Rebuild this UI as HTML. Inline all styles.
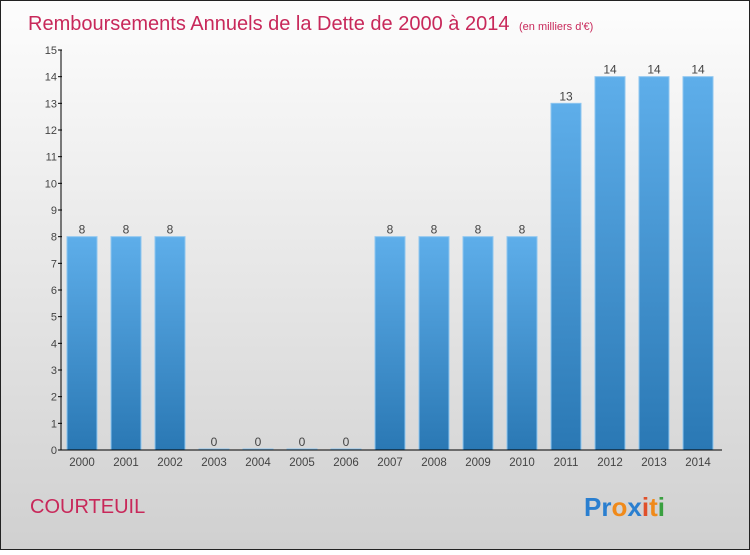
<!DOCTYPE html>
<html><head><meta charset="utf-8"><style>
body{margin:0;width:750px;height:550px;overflow:hidden;font-family:"Liberation Sans",sans-serif}
</style></head><body>
<svg width="750" height="550" xmlns="http://www.w3.org/2000/svg">
<defs>
<linearGradient id="bg" x1="0" y1="0" x2="0" y2="1"><stop offset="0" stop-color="#fdfdfd"/><stop offset="1" stop-color="#d0d0d0"/></linearGradient>
<linearGradient id="bar" x1="0" y1="0" x2="0" y2="1"><stop offset="0" stop-color="#5eaeea"/><stop offset="1" stop-color="#2a78b4"/></linearGradient>
</defs>
<rect x="0.5" y="0.5" width="749" height="549" fill="url(#bg)" stroke="#222"/>
<text x="28" y="30" font-size="20" fill="#c8285a">Remboursements Annuels de la Dette de 2000 à 2014 <tspan font-size="11" dx="4">(en milliers d'€)</tspan></text>
<g id="yaxis"></g>
<g id="bars"></g>
<g id="xaxis"></g>
<text x="30" y="513" font-size="20" fill="#c8285a">COURTEUIL</text>
<text x="584" y="516" font-size="26" font-weight="bold"><tspan fill="#2a7fd0">Pr</tspan><tspan fill="#f08a1a">o</tspan><tspan fill="#2a7fd0">x</tspan><tspan fill="#e0502a">i</tspan><tspan fill="#f08a1a">t</tspan><tspan fill="#3aa040">i</tspan></text>
</svg>
<script>
const years=["2000","2001","2002","2003","2004","2005","2006","2007","2008","2009","2010","2011","2012","2013","2014"];
const values=[8,8,8,0,0,0,0,8,8,8,8,13,14,14,14];
const yTicks=[0,1,2,3,4,5,6,7,8,9,10,11,12,13,14,15];
const NS="http://www.w3.org/2000/svg";
const y0=450,yTop=50,yMax=15,x0=82,step=44,bw=30;
const ys=v=>y0-(v/yMax)*(y0-yTop);
const xs=i=>x0+i*step;
function mk(t,a,p,txt){const e=document.createElementNS(NS,t);for(const k in a)e.setAttribute(k,a[k]);if(txt!==undefined)e.textContent=txt;p.appendChild(e);return e;}
const ya=document.getElementById('yaxis'),ba=document.getElementById('bars'),xa=document.getElementById('xaxis');
const al=mk('line',{x1:61,y1:yTop,x2:61,y2:y0,stroke:'#000'},ya);


yTicks.forEach(v=>{
 const tk=mk('line',{x1:58,y1:ys(v),x2:62,y2:ys(v),stroke:'#000'},ya);
 
 
 const t=mk('text',{x:57,y:ys(v)+4,'font-size':11,fill:'#444','text-anchor':'end'},ya,v);
 
 
});
const xl=mk('line',{x1:61,y1:y0,x2:722,y2:y0,stroke:'#000'},xa);


years.forEach((yr,i)=>{
 const v=values[i],top=ys(v),h=Math.max(y0-top,1);
 const r=mk('rect',{x:xs(i)-bw/2,y:y0-h,width:bw,height:h,fill:'url(#bar)',stroke:'#8ec6f0','stroke-width':1},ba);
 
 
 const lb=mk('text',{x:xs(i),y:y0-h-3,'font-size':12,fill:'#444','text-anchor':'middle'},ba,v);
 
 
 const xt=mk('text',{x:xs(i),y:y0+16,'font-size':11.5,fill:'#444','text-anchor':'middle'},xa,yr);
 
 
});
</script>
</body></html>
